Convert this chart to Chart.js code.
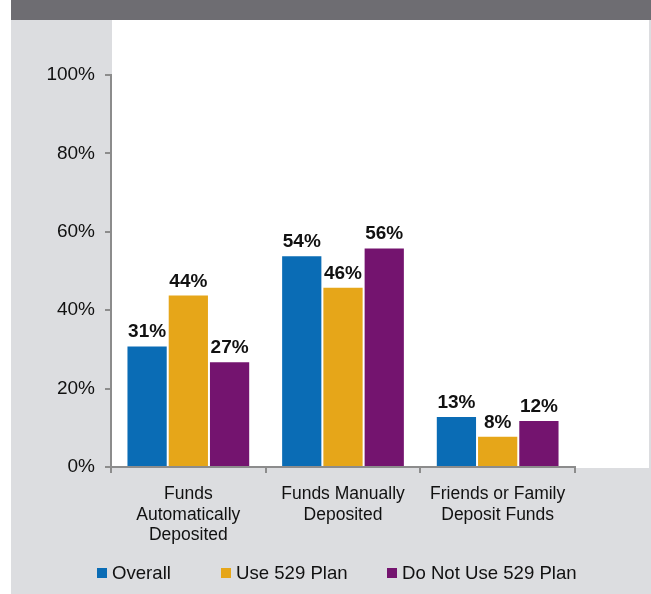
<!DOCTYPE html>
<html>
<head>
<meta charset="utf-8">
<script src="https://cdn.jsdelivr.net/npm/chart.js@4"></script>
<style>
  html, body { margin: 0; padding: 0; background: #fff; }
  #wrap { position: relative; width: 651px; height: 594px; overflow: hidden; font-family: "Liberation Sans", Arial, sans-serif; }
  #back { position: absolute; left: 11px; top: 0; width: 640px; height: 594px; background: #dcdde0; }
  #topbar { position: absolute; left: 11px; top: 0; width: 640px; height: 20px; background: #6e6d72; }
  #panel { position: absolute; left: 112px; top: 20px; width: 537px; height: 448px; background: #fff; }
  #chart { position: absolute; left: 0; top: 0; }
  .leg { position: absolute; top: 562px; font-size: 18.6px; color: #111; white-space: nowrap; line-height: 22px; }
  .leg i { display: inline-block; width: 10px; height: 10px; margin-right: 5px; vertical-align: 1px; }
</style>
</head>
<body>
<div id="wrap">
  <div id="back"></div>
  <div id="topbar"></div>
  <div id="panel"></div>
  <canvas id="chart" width="651" height="594"></canvas>
  <div id="legend"></div>
</div>
<script>
const categories = [
    ['Funds', 'Automatically', 'Deposited'],
    ['Funds Manually', 'Deposited'],
    ['Friends or Family', 'Deposit Funds']
];
const seriesNames = ['Overall', 'Use 529 Plan', 'Do Not Use 529 Plan'];
const overall = [31, 54, 13];
const use529 = [44, 46, 8];
const noUse529 = [27, 56, 12];
const yTicks = [0, 20, 40, 60, 80, 100];

const colors = ['#0a6cb5', '#e6a619', '#74146f'];
const legendLeft = [97, 221, 387];

// value labels above each bar
const barLabels = {
    id: 'barLabels',
    afterDatasetsDraw(chart) {
        const ctx = chart.ctx;
        ctx.save();
        ctx.font = 'bold 19px "Liberation Sans", Arial, sans-serif';
        ctx.fillStyle = '#111';
        ctx.textAlign = 'center';
        ctx.textBaseline = 'alphabetic';
        chart.data.datasets.forEach((ds, i) => {
            chart.getDatasetMeta(i).data.forEach((bar, j) => {
                ctx.fillText(ds.data[j] + '%', bar.x, bar.y - 8);
            });
        });
        ctx.restore();
    }
};

const series = [overall, use529, noUse529];

new Chart(document.getElementById('chart').getContext('2d'), {
    type: 'bar',
    data: {
        labels: categories,
        datasets: series.map((values, i) => ({
            label: seriesNames[i],
            data: values,
            backgroundColor: colors[i],
            borderColor: 'rgba(255,255,255,0.35)',
            borderWidth: 1,
            categoryPercentage: 0.8,
            barPercentage: 1.0
        }))
    },
    options: {
        responsive: false,
        animation: false,
        layout: { padding: { left: 11, right: 76, top: 75, bottom: 0 } },
        plugins: {
            legend: { display: false },
            tooltip: { enabled: false }
        },
        scales: {
            x: {
                afterFit(scale) { scale.height = 127; },
                grid: {
                    drawOnChartArea: false,
                    offset: true,
                    tickLength: 6,
                    color: '#8c8c8c',
                    lineWidth: 2
                },
                border: { color: '#8c8c8c', width: 2 },
                ticks: {
                    color: '#111',
                    padding: 11,
                    maxRotation: 0,
                    font: { family: '"Liberation Sans", Arial, sans-serif', size: 17.5, lineHeight: 1.17 }
                }
            },
            y: {
                min: 0,
                max: 100,
                afterFit(scale) { scale.width = 100; },
                afterBuildTicks(scale) { scale.ticks = yTicks.map(v => ({ value: v })); },
                grid: {
                    drawOnChartArea: false,
                    tickLength: 6,
                    color: '#8c8c8c',
                    lineWidth: 2
                },
                border: { color: '#8c8c8c', width: 2 },
                ticks: {
                    color: '#111',
                    padding: 10,
                    font: { family: '"Liberation Sans", Arial, sans-serif', size: 19 },
                    callback: v => v + '%'
                }
            }
        }
    },
    plugins: [barLabels]
});

// legend row
const legendDiv = document.getElementById('legend');
seriesNames.forEach((name, i) => {
    const item = document.createElement('div');
    item.className = 'leg';
    item.style.left = legendLeft[i] + 'px';
    item.innerHTML = `<i style="background:${colors[i]}"></i>${name}`;
    legendDiv.appendChild(item);
});
</script>
</body>
</html>
